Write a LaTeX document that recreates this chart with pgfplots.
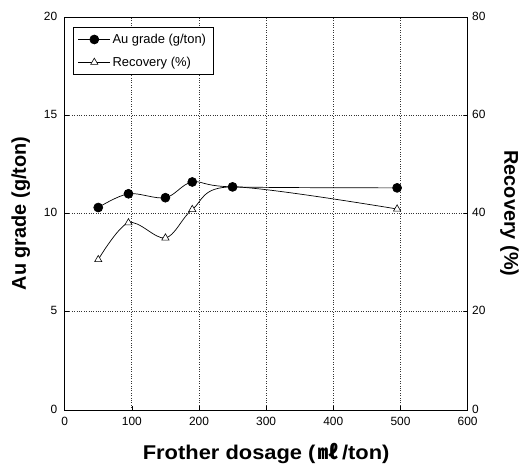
\documentclass[border=0pt]{standalone}
\usepackage{pgfplots}
\pgfplotsset{compat=1.18}
\usepackage{fontspec}
\setmainfont{Liberation Sans}
\newfontfamily\cjk{Noto Sans CJK KR}
\newfontfamily\xlabfont[FakeStretch=1.1]{Liberation Sans}
\begin{document}
\begin{tikzpicture}
\pgfplotsset{
  common/.style={
    scale only axis, width=405pt, height=395pt,
    xmin=0, xmax=600, at={(0,0)}, anchor=south west,
    xtick={0,100,...,600},
    tick align=inside, major tick length=4pt,
    tick style={black, line width=0.6pt},
    ticklabel style={font=\fontsize{12}{13}\selectfont},
    xticklabel style={yshift=-4pt},
    /pgf/number format/assume math mode=true,
    axis line style={black, line width=0.8pt},
    xtick pos=bottom,
  },
  rec/.style={black, line width=0.7pt, smooth, tension=0.55, mark=triangle*, mark size=4.2pt, mark options={fill=white, solid, line width=0.6pt}},
  au/.style={black, line width=0.7pt, smooth, tension=0.55, mark=*, mark size=4.5pt, mark options={fill=black, solid}},
}
% Recovery axis (right) with grid and x labels
\begin{axis}[common,
  ymin=0, ymax=80, ytick={0,20,...,80},
  ytick pos=right, yticklabel pos=right,
  yticklabel style={xshift=1pt, yshift=1pt},
  grid=major, grid style={dotted, black!80, line width=0.7pt},
  xlabel={{\xlabfont\bfseries Frother dosage (}\,{\cjk ㎖}\,{\xlabfont\bfseries /ton)}},
  every axis x label/.style={at={(axis description cs:0.5,0)}, yshift=-44pt, anchor=center, font=\fontsize{20}{22}\selectfont\bfseries},
  ylabel={Recovery (\%)},
  every axis y label/.style={at={(axis description cs:1,0.5)}, xshift=42pt, rotate=-90, anchor=center, font=\fontsize{20}{22}\selectfont\bfseries},
]
\addplot[rec] coordinates {(50,30.6) (95,38.1) (150,35.0) (190,40.8) (250,45.4) (495,40.9)};
\end{axis}
% Au grade axis (left)
\begin{axis}[common,
  ymin=0, ymax=20, ytick={0,5,...,20},
  ytick pos=left,
  yticklabel style={xshift=-4pt, yshift=1pt},
  xticklabels={},
  ylabel={Au grade (g/ton)},
  every axis y label/.style={at={(axis description cs:0,0.5)}, xshift=-44pt, rotate=90, anchor=center, font=\fontsize{20}{22}\selectfont\bfseries},
  legend cell align=left,
  legend style={at={(axis description cs:0.02,0.975)}, anchor=north west, draw=black, line width=0.7pt, fill=white,
    font=\fontsize{13}{14}\selectfont, row sep=8pt, inner xsep=5pt, inner ysep=5pt},
  legend image code/.code={\draw[mark repeat=2, mark phase=2, #1] plot coordinates {(0pt,0pt) (16pt,0pt) (32pt,0pt)};},
]
\addplot[au] coordinates {(50,10.3) (95,11.0) (150,10.8) (190,11.6) (250,11.35) (495,11.3)};
\addlegendentry{Au grade (g/ton)}
\addlegendimage{rec}
\addlegendentry{Recovery (\%)}
\end{axis}
\path[use as bounding box] (-65pt,-60pt) rectangle (457pt,412pt);
\end{tikzpicture}
\end{document}
